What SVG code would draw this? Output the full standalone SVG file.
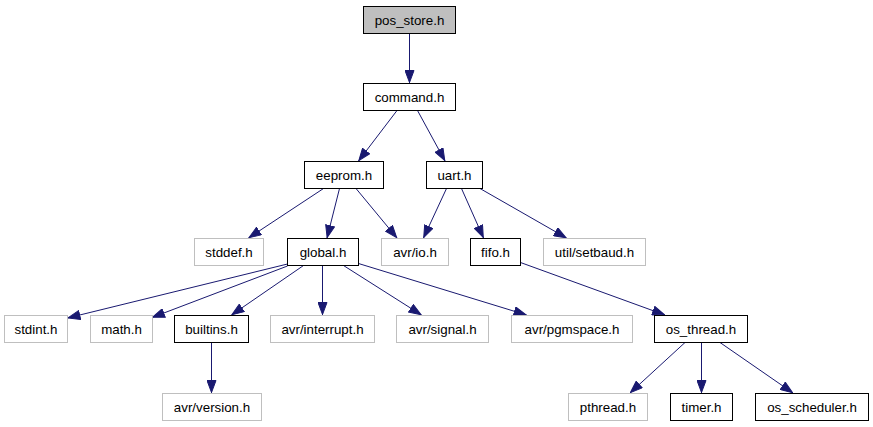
<svg xmlns="http://www.w3.org/2000/svg" width="873" height="427" viewBox="0 0 873 427">
<style>
.n rect{fill:#fff;stroke:#000;stroke-width:1}
.n.g rect{stroke:#bfbfbf}
.n.r rect{fill:#bfbfbf}
.n text{font-family:"Liberation Sans",Arial,sans-serif;font-size:13.33px;text-anchor:middle;fill:#000}
#edges path{fill:none;stroke:#191970;stroke-width:1;marker-end:url(#ah)}
</style>
<defs>
<marker id="ah" viewBox="0 0 13 10" refX="13" refY="5" markerWidth="13" markerHeight="10" markerUnits="userSpaceOnUse" orient="auto">
<path d="M0.5,0.5 L12.5,5 L0.5,9.5 Z" fill="#191970" stroke="#191970" stroke-width="1"/>
</marker>
</defs>
<rect width="873" height="427" fill="#fff"/>
<g id="edges">
<path d="M409.5,33.5 L409.5,83"/>
<path d="M397,110.5 L358.5,161"/>
<path d="M417.5,110.5 L445,161"/>
<path d="M323.5,188.5 L248.5,238"/>
<path d="M339.5,188.5 L327,238"/>
<path d="M356,188.5 L397,238"/>
<path d="M446.5,188.5 L423.5,238"/>
<path d="M461.5,188.5 L483.5,238"/>
<path d="M480,188.5 L566.5,238"/>
<path d="M287.5,264 L67.5,318"/>
<path d="M287.5,266 L152,317.5"/>
<path d="M303.5,265.5 L231.5,315"/>
<path d="M322.5,265.5 L322.5,315"/>
<path d="M343.5,265.5 L421.5,315"/>
<path d="M358.5,263.5 L526.5,315"/>
<path d="M520.5,262.5 L665,315"/>
<path d="M211.5,342.5 L211.5,393"/>
<path d="M685,342.5 L630,393"/>
<path d="M701.5,342.5 L701.5,393"/>
<path d="M720,342.5 L793,393"/>
</g>
<g id="pos_store" class="n r"><rect x="363.5" y="6.5" width="92" height="27"/><text x="409.5" y="24.5">pos_store.h</text></g>
<g id="command" class="n"><rect x="363.5" y="83.5" width="92" height="27"/><text x="409.5" y="101.5">command.h</text></g>
<g id="eeprom" class="n"><rect x="304.5" y="161.5" width="79" height="27"/><text x="344" y="179.5">eeprom.h</text></g>
<g id="uart" class="n"><rect x="426.5" y="161.5" width="56" height="27"/><text x="454.5" y="179.5">uart.h</text></g>
<g id="stddef" class="n g"><rect x="194.5" y="238.5" width="69" height="27"/><text x="229" y="256.5">stddef.h</text></g>
<g id="global" class="n"><rect x="287.5" y="238.5" width="71" height="27"/><text x="323" y="256.5">global.h</text></g>
<g id="avr_io" class="n g"><rect x="381.5" y="238.5" width="67" height="27"/><text x="415" y="256.5">avr/io.h</text></g>
<g id="fifo" class="n"><rect x="470.5" y="238.5" width="50" height="27"/><text x="495.5" y="256.5">fifo.h</text></g>
<g id="setbaud" class="n g"><rect x="543.5" y="238.5" width="102" height="27"/><text x="594.5" y="256.5">util/setbaud.h</text></g>
<g id="stdint" class="n g"><rect x="4.5" y="315.5" width="63" height="27"/><text x="36" y="333.5">stdint.h</text></g>
<g id="math" class="n g"><rect x="90.5" y="315.5" width="62" height="27"/><text x="121.5" y="333.5">math.h</text></g>
<g id="builtins" class="n"><rect x="174.5" y="315.5" width="74" height="27"/><text x="211.5" y="333.5">builtins.h</text></g>
<g id="interrupt" class="n g"><rect x="270.5" y="315.5" width="104" height="27"/><text x="322.5" y="333.5">avr/interrupt.h</text></g>
<g id="signal" class="n g"><rect x="396.5" y="315.5" width="92" height="27"/><text x="442.5" y="333.5">avr/signal.h</text></g>
<g id="pgmspace" class="n g"><rect x="511.5" y="315.5" width="121" height="27"/><text x="572" y="333.5">avr/pgmspace.h</text></g>
<g id="os_thread" class="n"><rect x="654.5" y="315.5" width="93" height="27"/><text x="701" y="333.5">os_thread.h</text></g>
<g id="version" class="n g"><rect x="162.5" y="393.5" width="99" height="27"/><text x="212" y="411.5">avr/version.h</text></g>
<g id="pthread" class="n g"><rect x="568.5" y="393.5" width="79" height="27"/><text x="608" y="411.5">pthread.h</text></g>
<g id="timer" class="n"><rect x="670.5" y="393.5" width="62" height="27"/><text x="701.5" y="411.5">timer.h</text></g>
<g id="os_scheduler" class="n"><rect x="755.5" y="393.5" width="113" height="27"/><text x="812" y="411.5">os_scheduler.h</text></g>
</svg>
